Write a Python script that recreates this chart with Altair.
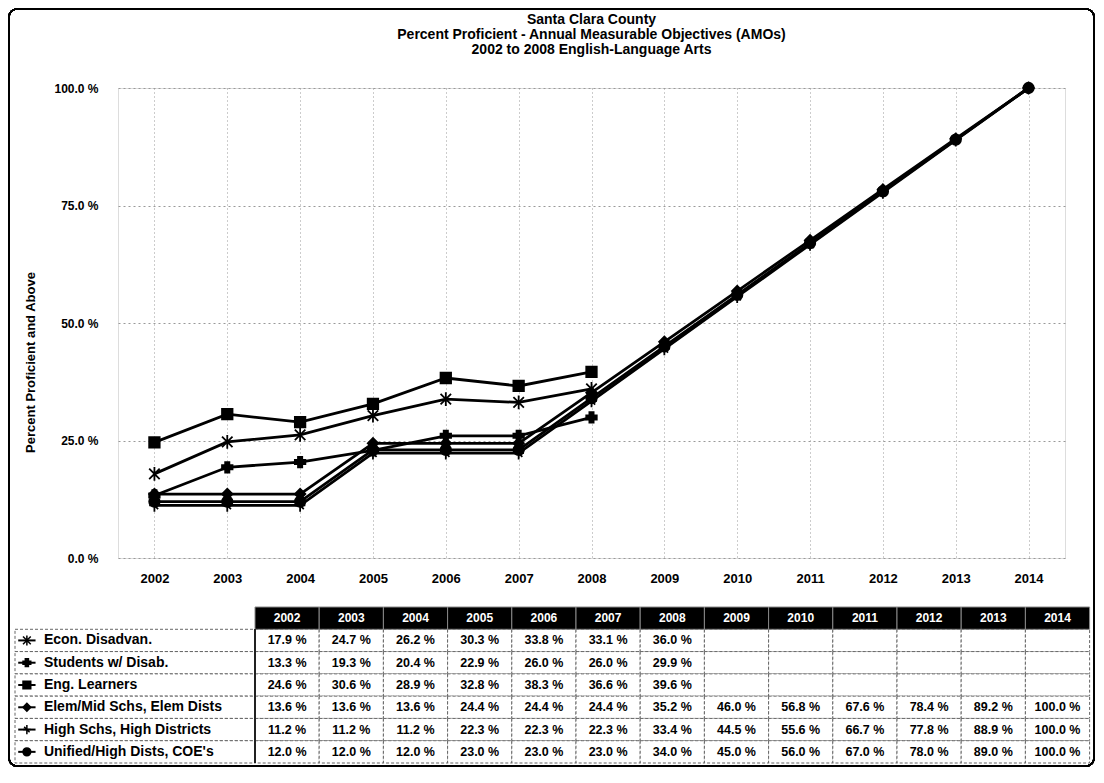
import altair as alt
import pandas as pd

# ---------------- data ----------------
years = list(range(2002, 2015))
series_names = [
    "Econ. Disadvan.",
    "Students w/ Disab.",
    "Eng. Learners",
    "Elem/Mid Schs, Elem Dists",
    "High Schs, High Districts",
    "Unified/High Dists, COE's",
]
econ = [17.9, 24.7, 26.2, 30.3, 33.8, 33.1, 36.0]
swd = [13.3, 19.3, 20.4, 22.9, 26.0, 26.0, 29.9]
eng = [24.6, 30.6, 28.9, 32.8, 38.3, 36.6, 39.6]
elem = [13.6, 13.6, 13.6, 24.4, 24.4, 24.4, 35.2, 46.0, 56.8, 67.6, 78.4, 89.2, 100.0]
high = [11.2, 11.2, 11.2, 22.3, 22.3, 22.3, 33.4, 44.5, 55.6, 66.7, 77.8, 88.9, 100.0]
unified = [12.0, 12.0, 12.0, 23.0, 23.0, 23.0, 34.0, 45.0, 56.0, 67.0, 78.0, 89.0, 100.0]
y_ticks = [0, 25, 50, 75, 100]
title_lines = [
    "Santa Clara County",
    "Percent Proficient - Annual Measurable Objectives (AMOs)",
    "2002 to 2008 English-Language Arts",
]

all_series = [econ, swd, eng, elem, high, unified]

# ---------------- tables ----------------
pts = []
for si, (name, vals) in enumerate(zip(series_names, all_series)):
    for yi, v in enumerate(vals):
        pts.append({"series": name, "year": years[yi], "value": v})
df = pd.DataFrame(pts)

COLW = 64.2          # pixel width of one year column
LW = 240 / COLW      # width of the label column in year-column units
cells = []
for si, (name, vals) in enumerate(zip(series_names, all_series)):
    r = si + 1
    cells.append({"c0": -LW, "c1": 0, "r0": r, "r1": r + 1, "cm": 0, "rm": r + 0.5, "label": ""})
    for ci in range(len(years)):
        lab = f"{vals[ci]:.1f} %" if ci < len(vals) else ""
        cells.append({"c0": ci, "c1": ci + 1, "r0": r, "r1": r + 1, "cm": ci + 0.5, "rm": r + 0.5, "label": lab})
cells_df = pd.DataFrame(cells)

header_df = pd.DataFrame({"year": [str(y) for y in years],
                          "c0": list(range(13)), "c1": list(range(1, 14))})
header_df["cm"] = header_df["c0"] + 0.5

rowlab_df = pd.DataFrame({"series": series_names, "rm": [i + 1.5 for i in range(6)]})

shape_range = [
    "M-1,-1L1,1M-1,1L1,-1M0,-1.3L0,1.3",
    "cross",
    "square",
    "diamond",
    "M-1,0L1,0M0,-1.2L0,1.2M-0.7,-0.7L0.7,0.7",
    "circle",
]
shape_scale = alt.Scale(domain=series_names, range=shape_range)

FONT = "Liberation Sans"

# ---------------- line chart ----------------
xs = alt.Scale(domain=[2001.5, 2014.5], nice=False, zero=False)
ys = alt.Scale(domain=[0, 100], nice=False, zero=False)

base = alt.Chart(df)
lines = base.mark_line(color="black", strokeWidth=2.8).encode(
    x=alt.X("year:Q", scale=xs,
            axis=alt.Axis(values=years, format="d", title=None, labelFontSize=13,
                          labelFontWeight="bold", labelColor="black", labelPadding=14,
                          domain=False, ticks=False, grid=True, gridColor="#999",
                          gridDash=[1, 3], labelFont=FONT)),
    y=alt.Y("value:Q", scale=ys,
            axis=alt.Axis(values=y_ticks, labelExpr="format(datum.value, '.1f') + ' %'",
                          title="Percent Proficient and Above", titleFontSize=13,
                          titleFontWeight="bold", titleFont=FONT, titleColor="black",
                          titleX=-81, titleY=274, titleAngle=-90, titleAlign="center",
                          labelFontSize=12, labelFontWeight="bold", labelColor="black",
                          labelFont=FONT, labelPadding=20, domain=False, ticks=False,
                          grid=True, gridColor="#999", gridDash=[2, 3])),
    detail="series:N",
)
points = base.mark_point(filled=True, opacity=1, size=110, stroke="black", strokeWidth=1.8,
                         color="black").encode(
    x=alt.X("year:Q", scale=xs),
    y=alt.Y("value:Q", scale=ys),
    shape=alt.Shape("series:N", scale=shape_scale, legend=None),
)
main = alt.layer(lines, points)

# ---------------- data table ----------------
tx = alt.Scale(domain=[-LW, 13], range=[-103, 137 + 13 * COLW], nice=False, zero=False)
ty = alt.Scale(domain=[0, 7], range=[519, 675], nice=False, zero=False)

body = alt.Chart(cells_df).mark_rect(fill="white", stroke="#666", strokeDash=[3, 2],
                                     strokeWidth=1).encode(
    x=alt.X("c0:Q", scale=tx, axis=None), x2="c1:Q",
    y=alt.Y("r0:Q", scale=ty, axis=None), y2="r1:Q",
)
vals_text = alt.Chart(cells_df).mark_text(fontSize=12.5, fontWeight="bold", font=FONT,
                                          color="black", align="center",
                                          baseline="middle").encode(
    x=alt.X("cm:Q", scale=tx, axis=None),
    y=alt.Y("rm:Q", scale=ty, axis=None),
    text="label:N",
)
head = alt.Chart(header_df).mark_rect(fill="black", stroke="#888", strokeWidth=1).encode(
    x=alt.X("c0:Q", scale=tx, axis=None), x2="c1:Q",
    y=alt.YDatum(0, scale=ty, axis=None), y2=alt.Y2Datum(1),
)
head_text = alt.Chart(header_df).mark_text(fontSize=12, fontWeight="bold", font=FONT,
                                           color="white", align="center",
                                           baseline="middle").encode(
    x=alt.X("cm:Q", scale=tx, axis=None),
    y=alt.YDatum(0.5, scale=ty, axis=None),
    text="year:N",
)
sep = alt.Chart(header_df).mark_rule(color="#222", strokeWidth=1.5).encode(
    x=alt.XDatum(0, scale=tx, axis=None),
    y=alt.YDatum(1, scale=ty, axis=None), y2=alt.Y2Datum(7),
)
row_lines = alt.Chart(rowlab_df).mark_rule(color="black", strokeWidth=2).encode(
    x=alt.XDatum(-LW + 0.05, scale=tx, axis=None), x2=alt.X2Datum(-LW + 0.32),
    y=alt.Y("rm:Q", scale=ty, axis=None),
)
row_syms = alt.Chart(rowlab_df).mark_point(filled=True, opacity=1, size=60, stroke="black",
                                           strokeWidth=1.5, color="black").encode(
    x=alt.XDatum(-LW + 0.185, scale=tx, axis=None),
    y=alt.Y("rm:Q", scale=ty, axis=None),
    shape=alt.Shape("series:N", scale=shape_scale, legend=None),
)
row_text = alt.Chart(rowlab_df).mark_text(fontSize=14, fontWeight="bold", font=FONT,
                                          color="black", align="left",
                                          baseline="middle").encode(
    x=alt.XDatum(-LW + 0.45, scale=tx, axis=None),
    y=alt.Y("rm:Q", scale=ty, axis=None),
    text="series:N",
)
table = alt.layer(body, head, head_text, vals_text, sep, row_lines, row_syms, row_text)

# outer frame of the figure
frame = alt.Chart(header_df).mark_rect(filled=False, color="black", strokeWidth=1.5,
                                       cornerRadius=8).encode(
    x=alt.value(-109), x2=alt.value(976), y=alt.value(-79), y2=alt.value(678),
)

chart = alt.layer(main, table, frame).resolve_scale(
    x="independent", y="independent"
).properties(
    width=947,
    height=470,
    autosize=alt.AutoSizeParams(type="none"),
    padding={"left": 110, "top": 80, "right": 31, "bottom": 210},
    title=alt.TitleParams(text=title_lines, fontSize=14, font=FONT, fontWeight="bold",
                          color="black", anchor="middle", frame="group", offset=-49,
                          lineHeight=15),
).configure_view(
    stroke="#888", strokeDash=[2, 2]
).configure(background="white")

chart.save("out.html", embed_options={"renderer": "svg", "actions": False})
